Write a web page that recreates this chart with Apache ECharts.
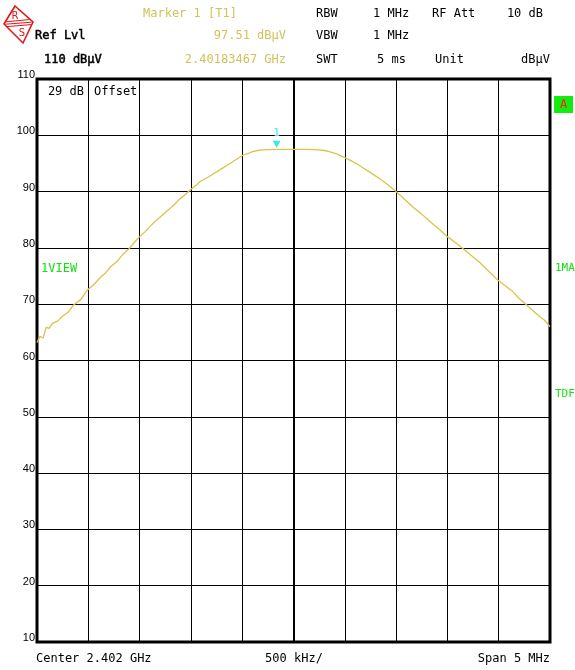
<!DOCTYPE html>
<html>
<head>
<meta charset="utf-8">
<script src="https://cdn.jsdelivr.net/npm/echarts@6/dist/echarts.min.js"></script>
<style>
html,body{margin:0;padding:0;background:#fff;}
#chart{width:575px;height:670px;}
</style>
</head>
<body>
<div id="chart"></div>
<script>
// Frequency offset from center (MHz) and level (dBµV)
const freqOffsetsMHz = [-2.50,-2.47,-2.44,-2.41,-2.38,-2.35,-2.30,-2.25,-2.20,-2.14,-2.07,-2.01,-1.95,-1.89,-1.83,-1.78,-1.72,-1.66,-1.60,-1.55,-1.50,-1.45,-1.41,-1.36,-1.31,-1.26,-1.21,-1.16,-1.12,-1.06,-1.00,-0.95,-0.91,-0.83,-0.75,-0.68,-0.62,-0.55,-0.49,-0.44,-0.40,-0.35,-0.30,-0.17,0.00,0.15,0.24,0.30,0.35,0.42,0.48,0.55,0.62,0.68,0.74,0.84,0.92,1.00,1.08,1.16,1.25,1.33,1.42,1.50,1.58,1.65,1.73,1.81,1.90,1.99,2.07,2.14,2.20,2.27,2.33,2.40,2.45,2.50];
const levelsDbuV = [63.2,64.3,64.0,65.9,65.7,66.6,67.0,67.9,68.5,69.9,70.9,72.5,73.4,74.6,75.6,76.7,77.6,78.9,79.9,81.0,82.0,82.8,83.6,84.5,85.3,86.1,86.9,87.7,88.5,89.4,90.4,91.1,91.8,92.6,93.5,94.3,95.0,95.8,96.5,96.8,97.1,97.3,97.4,97.5,97.5,97.5,97.4,97.3,97.1,96.7,96.2,95.6,94.9,94.2,93.5,92.3,91.2,90.0,88.7,87.3,86.0,84.7,83.3,82.0,80.9,79.9,78.7,77.5,75.9,74.3,73.2,72.2,71.0,69.9,68.9,67.8,67.1,66.0];
const markerFreqMHz = -0.165;   // 2.40183467 GHz
const markerLevel = 97.51;
const yTicks = [10,20,30,40,50,60,70,80,90,100,110];

const traceData = freqOffsetsMHz.map((f, i) => [f, levelsDbuV[i]]);

const MONO = '12px "DejaVu Sans Mono", monospace';
const MONO11 = '11px "DejaVu Sans Mono", monospace';
const GOLD = '#d2c25a';
const GREEN = '#12e012';
const RED = '#e01818';
function txt(text, x, y, opts) {
  opts = opts || {};
  const style = {
    text: text, fill: opts.fill || '#000', font: opts.font || MONO,
    align: opts.align || 'left', verticalAlign: 'middle'
  };
  if (opts.heavy) { style.stroke = style.fill; style.lineWidth = 0.5; }
  return {type: 'text', x: x, y: y, silent: true, style: style};
}
function seg(x1, y1, x2, y2) {
  return {type: 'line', silent: true, shape: {x1: x1, y1: y1, x2: x2, y2: y2}, style: {stroke: RED, lineWidth: 1}};
}

const chart = echarts.init(document.getElementById('chart'), null, {renderer: 'canvas'});
chart.setOption({
  animation: false,
  backgroundColor: '#fff',
  grid: {left: 37, right: 25, top: 79, bottom: 28, show: true, borderColor: '#000', borderWidth: 3, backgroundColor: 'transparent'},
  xAxis: {
    type: 'value', min: -2.5, max: 2.5, interval: 0.5,
    axisLine: {show: false}, axisTick: {show: false}, axisLabel: {show: false},
    splitLine: {show: true, lineStyle: {color: '#000', width: 1}}
  },
  yAxis: {
    type: 'value', min: 10, max: 110, interval: 10,
    axisLine: {show: false}, axisTick: {show: false},
    axisLabel: {
      show: true, color: '#000', fontSize: 11, fontFamily: '"Liberation Sans", sans-serif',
      margin: 2, verticalAlign: 'bottom', lineHeight: 8,
      customValues: yTicks
    },
    splitLine: {show: true, lineStyle: {color: '#000', width: 1}}
  },
  series: [{
    type: 'line',
    data: traceData,
    showSymbol: false,
    smooth: false,
    lineStyle: {color: '#d6c64a', width: 1.3},
    itemStyle: {color: '#d6c64a'},
    silent: true,
    z: 5,
    markLine: {
      silent: true, symbol: ['none', 'none'], label: {show: false},
      lineStyle: {color: '#000', width: 2, type: 'solid'},
      data: [{xAxis: 0}]
    },
    markPoint: {
      silent: true,
      data: [{coord: [markerFreqMHz, markerLevel]}],
      symbol: 'triangle', symbolRotate: 180, symbolSize: [8, 7], symbolOffset: [0, -5],
      itemStyle: {color: '#3ee6f2'},
      label: {show: true, formatter: '1', position: 'top', distance: 2, color: '#3ee6f2', fontSize: 11, fontFamily: '"DejaVu Sans Mono", monospace'}
    }
  }],
  graphic: [
    // R&S logo
    {type: 'polygon', silent: true, shape: {points: [[15, 6], [33, 22], [23, 43], [4, 24]]}, style: {fill: '#fff', stroke: RED, lineWidth: 1.6}},
    seg(6, 21.8, 29, 19.6),
    seg(5.5, 24.2, 31.5, 22.2),
    seg(7, 26.6, 31, 24.6),
    {type: 'text', x: 15, y: 16, silent: true, style: {text: 'R', fill: RED, font: '10px "DejaVu Sans"', align: 'center', verticalAlign: 'middle'}},
    {type: 'text', x: 22, y: 33, silent: true, style: {text: 'S', fill: RED, font: '10px "DejaVu Sans"', align: 'center', verticalAlign: 'middle'}},

    // header left
    txt('Marker 1 [T1]', 143, 14, {fill: GOLD}),
    txt('Ref Lvl', 35, 36, {heavy: true}),
    txt('97.51 dBµV', 286, 36, {fill: GOLD, align: 'right'}),
    txt('110 dBµV', 44, 60, {heavy: true}),
    txt('2.40183467 GHz', 286, 60, {fill: GOLD, align: 'right'}),

    // header right
    txt('RBW', 316, 14), txt('1 MHz', 373, 14), txt('RF Att', 432, 14), txt('10 dB', 543, 14, {align: 'right'}),
    txt('VBW', 316, 36), txt('1 MHz', 373, 36),
    txt('SWT', 316, 60), txt('5 ms', 377, 60), txt('Unit', 435, 60), txt('dBµV', 550, 60, {align: 'right'}),

    // inside plot
    txt('29 dB', 84, 92, {align: 'right'}),
    txt('Offset', 94, 92),
    txt('1VIEW', 41, 269, {fill: GREEN}),

    // right side annotations
    {type: 'rect', x: 554, y: 96, shape: {width: 19, height: 17}, silent: true, style: {fill: '#10ee10'}},
    txt('A', 563.5, 105, {fill: '#ff2020', align: 'center'}),
    txt('1MA', 555, 268, {fill: GREEN, font: MONO11}),
    txt('TDF', 555, 394, {fill: GREEN, font: MONO11}),

    // bottom
    txt('Center 2.402 GHz', 36, 659),
    txt('500 kHz/', 294, 659, {align: 'center'}),
    txt('Span 5 MHz', 550, 659, {align: 'right'})
  ]
});
</script>
</body>
</html>
